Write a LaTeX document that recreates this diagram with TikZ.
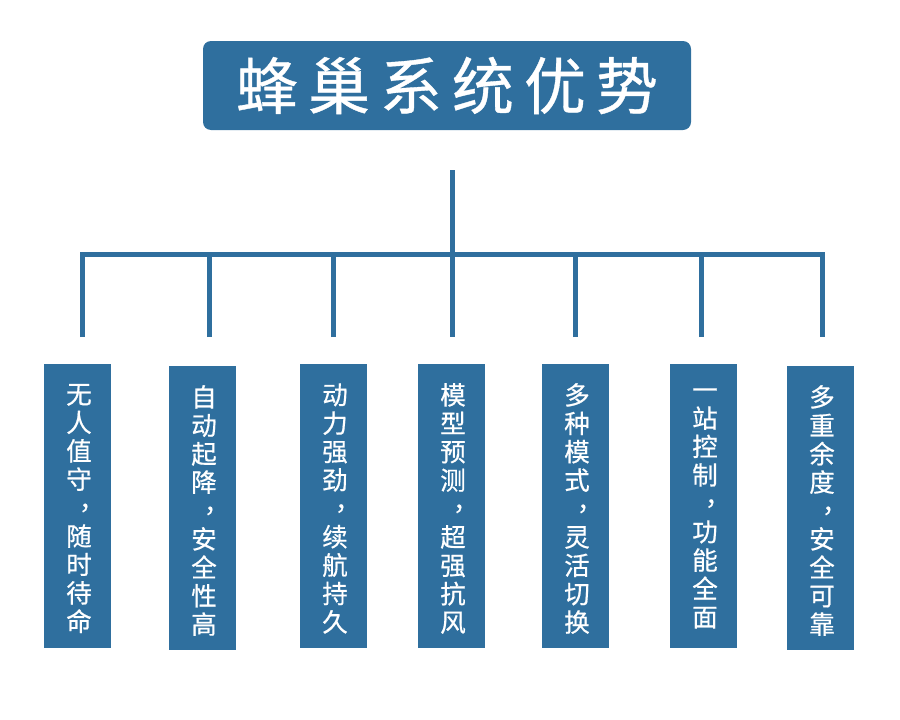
\documentclass[tikz,border=0pt]{standalone}
\usepackage{fontspec}
\newfontfamily\cjk[FakeBold=0.6]{Noto Sans CJK SC}
\definecolor{hiveblue}{RGB}{47,111,158}
\newcommand{\vcomma}{\makebox[1em][l]{\hspace{0.5em}\raisebox{0.3em}{，}}}
\tikzset{
  linkline/.style={draw=hiveblue, line width=5pt, line join=miter},
  titlebox/.style={fill=hiveblue, rounded corners=8pt, minimum width=488pt, minimum height=89pt, inner sep=0pt, text=white, font=\cjk\fontsize{62}{70}\selectfont},
  itembox/.style={fill=hiveblue, minimum width=67pt, minimum height=284pt, inner sep=0pt},
  itemtext/.style={inner sep=0pt, text=white, align=center, font=\cjk\fontsize{25.5}{28.4}\selectfont}
}
\begin{document}
\begin{tikzpicture}[x=1pt,y=-1pt]
\useasboundingbox (0,0) rectangle (900,720);
\node[titlebox] (title) at (447,85.5) {蜂\hspace{10pt}巢\hspace{10pt}系\hspace{10pt}统\hspace{10pt}优\hspace{10pt}势};
\coordinate (top) at (452,170);
\coordinate (hub) at (452,254);
\foreach \i/\x in {1/82,2/209,3/333,4/452,5/575,6/701,7/822}{
  \coordinate (e\i) at (\x,337);
}
\node[itembox] (b1) at (77.5,506) {};
\node[itembox] (b2) at (202.5,508) {};
\node[itembox] (b3) at (333.5,506) {};
\node[itembox] (b4) at (451.5,506) {};
\node[itembox] (b5) at (575.5,506) {};
\node[itembox] (b6) at (703.5,506) {};
\node[itembox] (b7) at (820.5,508) {};
\node[itemtext] (t1) at ([xshift=1.5pt,yshift=-2.5pt]b1.center) {无\\人\\值\\守\\\vcomma\\随\\时\\待\\命};
\node[itemtext] (t2) at ([xshift=1.5pt,yshift=-2.5pt]b2.center) {自\\动\\起\\降\\\vcomma\\安\\全\\性\\高};
\node[itemtext] (t3) at ([xshift=1.5pt,yshift=-2.5pt]b3.center) {动\\力\\强\\劲\\\vcomma\\续\\航\\持\\久};
\node[itemtext] (t4) at ([xshift=1.5pt,yshift=-2.5pt]b4.center) {模\\型\\预\\测\\\vcomma\\超\\强\\抗\\风};
\node[itemtext] (t5) at ([xshift=1.5pt,yshift=-2.5pt]b5.center) {多\\种\\模\\式\\\vcomma\\灵\\活\\切\\换};
\node[itemtext] (t6) at ([xshift=1.5pt,yshift=-2.5pt]b6.center) {一\\站\\控\\制\\\vcomma\\功\\能\\全\\面};
\node[itemtext] (t7) at ([xshift=1.5pt,yshift=-2.5pt]b7.center) {多\\重\\余\\度\\\vcomma\\安\\全\\可\\靠};
\draw[linkline] (top) -- (e4);
\draw[linkline] (e1) |- (hub) -| (e7);
\foreach \i in {2,3,5,6}{
  \draw[linkline] (e\i) -- (e\i |- hub);
}
\end{tikzpicture}
\end{document}
